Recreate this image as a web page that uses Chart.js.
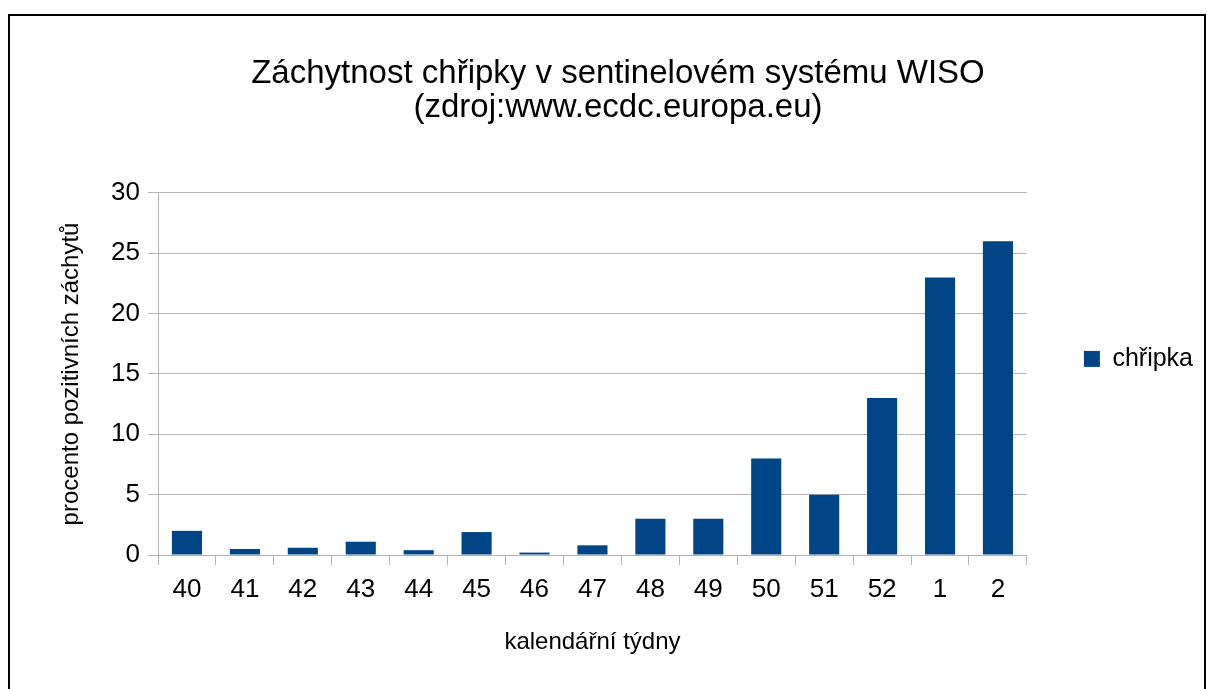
<!DOCTYPE html>
<html>
<head>
<meta charset="utf-8">
<script src="https://cdn.jsdelivr.net/npm/chart.js@4.4.1/dist/chart.umd.min.js"></script>
<style>
	html, body { margin: 0; padding: 0; background: #fff; }
	#wrap { position: absolute; left: 0; top: 0; width: 1207px; height: 689px; }
</style>
</head>
<body>
<div id="wrap"><canvas id="chart" width="1207" height="689"></canvas></div>
<script>
"use strict";

const weeks = ["40", "41", "42", "43", "44", "45", "46", "47", "48", "49", "50", "51", "52", "1", "2"];
const flu = [2.0, 0.5, 0.6, 1.1, 0.4, 1.9, 0.2, 0.8, 3, 3, 8, 5, 13, 23, 26];
const yTicks = [0, 5, 10, 15, 20, 25, 30];

const chartTitle = ["Záchytnost chřipky v sentinelovém systému WISO", "(zdroj:www.ecdc.europa.eu)"];
const seriesName = "chřipka";
const xTitle = "kalendářní týdny";
const yTitle = "procento pozitivních záchytů";

const font = "'Liberation Sans', Arial, sans-serif";

// black frame round the whole chart
const framePlugin = {
	id: 'frame',
	beforeDraw(chart) {
		const ctx = chart.ctx;
		ctx.save();
		ctx.fillStyle = '#fff';
		ctx.fillRect(0, 0, chart.width, chart.height);
		ctx.strokeStyle = '#000';
		ctx.lineWidth = 2;
		ctx.strokeRect(9, 15, 1196, 690);
		ctx.restore();
	}
};

const ctx = document.getElementById('chart').getContext('2d');
const fluChart = new Chart(ctx, {
	type: 'bar',
	data: {
		labels: weeks,
		datasets: [{
			label: seriesName,
			data: flu,
			backgroundColor: '#004586',
			borderWidth: 0,
			barPercentage: 0.52,
			categoryPercentage: 1
		}]
	},
	options: {
		responsive: false,
		animation: false,
		layout: { padding: { left: 33, right: 4, top: 40, bottom: 28 } },
		plugins: {
			title: {
				display: true,
				text: chartTitle,
				color: '#000',
				font: { family: font, size: 33, weight: 'normal', lineHeight: 1.03 },
				padding: { top: 17, bottom: 68 }
			},
			legend: {
				position: 'right',
				title: {
					// empty title only pushes the single entry down a little
					display: true,
					text: ' ',
					font: { family: font, size: 14 },
					padding: 0
				},
				labels: {
					color: '#000',
					font: { family: font, size: 25 },
					boxWidth: 16,
					boxHeight: 16,
					padding: 57
				}
			},
			tooltip: { enabled: false }
		},
		scales: {
			x: {
				grid: {
					offset: true,
					drawOnChartArea: false,
					tickLength: 10,
					color: '#b3b3b3'
				},
				border: { color: '#b3b3b3' },
				ticks: { color: '#000', font: { family: font, size: 26 }, padding: 9 },
				title: {
					display: true,
					text: xTitle,
					color: '#000',
					font: { family: font, size: 24 }
				},
				afterFit: s => { s.height = 106; }
			},
			y: {
				min: 0,
				max: 30,
				afterBuildTicks: s => { s.ticks = yTicks.map(v => ({ value: v })); },
				grid: { color: '#b3b3b3', tickLength: 10 },
				border: { color: '#b3b3b3' },
				ticks: { color: '#000', font: { family: font, size: 26 }, padding: 8 },
				title: {
					display: true,
					text: yTitle,
					color: '#000',
					font: { family: font, size: 24 },
					padding: { top: 24, bottom: 0 }
				},
				afterFit: s => { s.width = 125; }
			}
		}
	},
	plugins: [framePlugin]
});
</script>
</body>
</html>
